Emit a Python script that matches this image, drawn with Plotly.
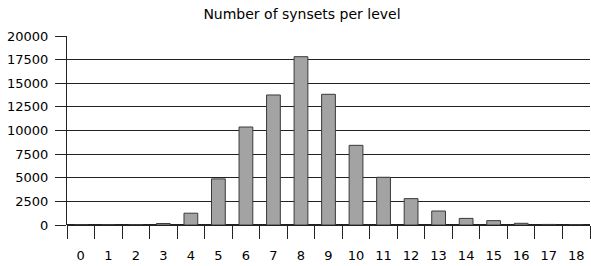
import plotly.graph_objects as go

levels = [str(i) for i in range(19)]
synsets = [10, 8, 50, 160, 1250, 4880, 10370, 13760, 17810, 13830, 8430, 5050, 2790, 1480, 700, 460, 180, 60, 20]
y_ticks = [0, 2500, 5000, 7500, 10000, 12500, 15000, 17500, 20000]
y_tick_labels = [str(v) for v in y_ticks]

fig = go.Figure(go.Bar(
    x=levels, y=synsets, width=0.5,
    marker=dict(color="#a3a3a3", line=dict(color="#3a3a3a", width=1)),
))
fig.update_layout(
    width=591, height=266,
    margin=dict(l=67, r=1, t=36, b=41, autoexpand=False),
    paper_bgcolor="white", plot_bgcolor="white",
    font=dict(family="DejaVu Sans", size=13, color="black"),
    title=dict(text="Number of synsets per level", x=0.511, xanchor="center", y=0.947, yanchor="middle",
               font=dict(size=14, family="DejaVu Sans", color="black")),
    bargap=0.5, showlegend=False,
)
fig.update_xaxes(type="category", showgrid=False, showline=False, zeroline=False,
                 ticks="outside", tickson="boundaries", ticklen=13, tickcolor="#222", tickwidth=1,
                 ticklabelstandoff=21, automargin=False)
fig.update_yaxes(range=[0, 20000], tickvals=y_ticks, ticktext=y_tick_labels,
                 showgrid=True, gridcolor="#222", gridwidth=1,
                 showline=True, linecolor="#222", linewidth=1, zeroline=True, zerolinecolor="#222",
                 ticks="outside", ticklen=11, tickcolor="#222", ticklabelstandoff=4, automargin=False)
fig.write_html("out.html", post_script="document.body.style.margin='0';",
               config={"displayModeBar": False})
